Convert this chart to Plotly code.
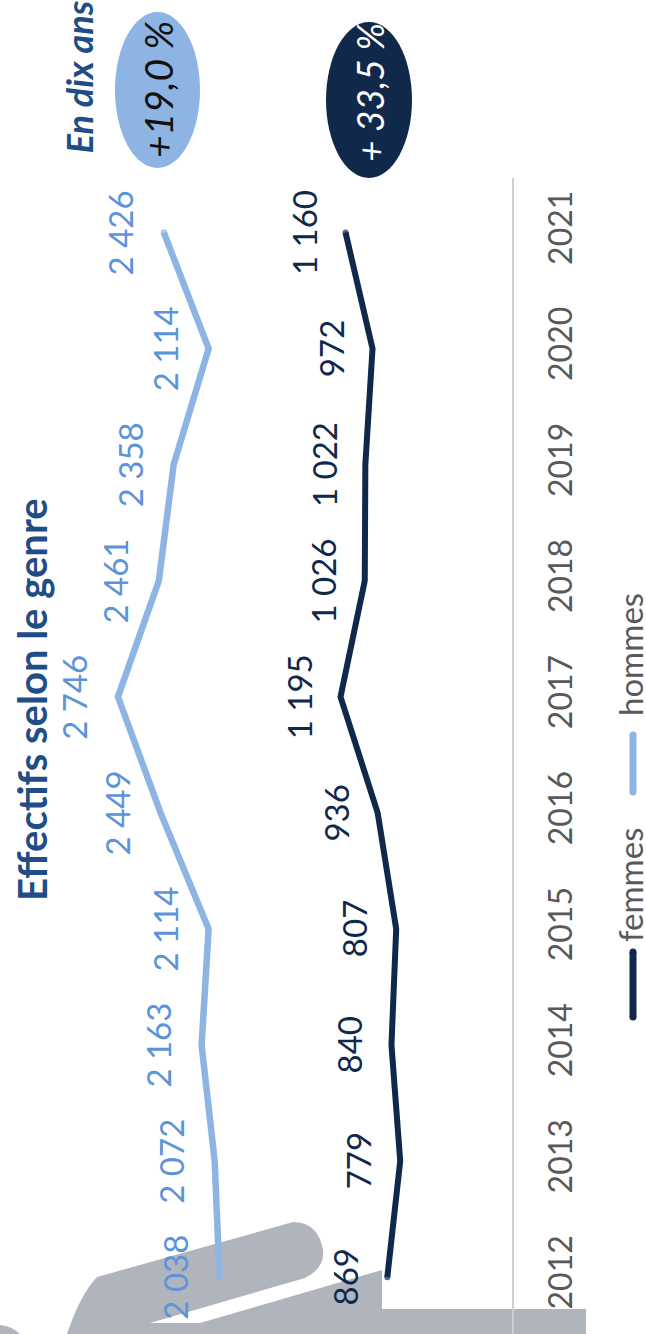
import plotly.graph_objects as go

years = [2012, 2013, 2014, 2015, 2016, 2017, 2018, 2019, 2020, 2021]
hommes = [2038, 2072, 2163, 2114, 2449, 2746, 2461, 2358, 2114, 2426]
femmes = [869, 779, 840, 807, 936, 1195, 1026, 1022, 972, 1160]

FONT = "Lato"
LIGHT = "#8db4e2"
LIGHT_TXT = "#5b94d8"
DARK = "#10284a"
GREY = "#b0b5bd"
W, H = 646, 1334
L, R, T, B = 0, 134, 178, 0
PW, PH = W - L - R, H - T - B


def px(x):
    return (x - L) / PW


def py(y):
    return (H - B - y) / PH


def fmt(v):
    return f"{v:,}".replace(",", " ")


def path(points):
    out = []
    for cmd, *coords in points:
        vals = []
        for i in range(0, len(coords), 2):
            vals.append(f"{px(coords[i]):.5f},{py(coords[i + 1]):.5f}")
        out.append(cmd + " " + " ".join(vals))
    return " ".join(out) + " Z"


def text(s, x, y, size, color, bold=False, italic=False, yanchor="middle"):
    t = f"<b>{s}</b>" if bold else s
    t = f"<i>{t}</i>" if italic else t
    return dict(text=t, x=px(x), y=py(y), xref="paper", yref="paper", textangle=-90,
                showarrow=False, xanchor="center", yanchor=yanchor,
                font=dict(family=FONT, size=size, color=color))


def key(x, y0, y1, color, w=7):
    r = w / 2
    return [
        dict(type="line", xref="paper", yref="paper", x0=px(x), x1=px(x), y0=py(y0), y1=py(y1),
             line=dict(color=color, width=w)),
        dict(type="circle", xref="paper", yref="paper", fillcolor=color, line=dict(width=0),
             x0=px(x - r), x1=px(x + r), y0=py(y0 + r), y1=py(y0 - r)),
        dict(type="circle", xref="paper", yref="paper", fillcolor=color, line=dict(width=0),
             x0=px(x - r), x1=px(x + r), y0=py(y1 + r), y1=py(y1 - r)),
    ]


fig = go.Figure()
for name, vals, col, w in [("hommes", hommes, LIGHT, 6.5), ("femmes", femmes, DARK, 6)]:
    ends = [w] + [0] * (len(vals) - 2) + [w]
    fig.add_trace(go.Scatter(x=vals, y=years, mode="lines+markers", name=name,
                             line=dict(color=col, width=w),
                             marker=dict(color=col, size=ends, line=dict(width=0))))

annotations = []
for v, yr in zip(hommes, years):
    annotations.append(dict(x=v, y=yr, text=fmt(v), xshift=-44, textangle=-90, showarrow=False,
                            font=dict(family=FONT, size=33, color=LIGHT_TXT)))
for v, yr in zip(femmes, years):
    annotations.append(dict(x=v, y=yr, text=fmt(v), xshift=-42, textangle=-90, showarrow=False,
                            font=dict(family=FONT, size=33, color=DARK)))

annotations += [
    text("Effectifs selon le genre", 32, 700, 40, "#1f4e86", bold=True),
    text("En dix ans", 78, 156, 36, "#1f4e86", bold=True, italic=True, yanchor="bottom"),
    text("+19,0 %", 158, 90, 39, "#111111", italic=True),
    text("+ 33,5 %", 369, 93, 37, "#ffffff", italic=True),
    text("femmes", 630, 885, 33, "#595959"),
    text("hommes", 630, 655, 33, "#595959"),
]

shapes = [
    dict(type="path", xref="paper", yref="paper", layer="below", fillcolor=GREY, line=dict(width=0),
         path=path([("M", 382, 1270), ("L", 200, 1323), ("L", 150, 1323), ("L", 305, 1278),
                    ("Q", 325, 1268, 323, 1250), ("Q", 318, 1222, 293, 1222), ("L", 97, 1277),
                    ("Q", 80, 1295, 67, 1334), ("L", 586, 1334), ("L", 586, 1309), ("L", 382, 1309)])),
    dict(type="path", xref="paper", yref="paper", layer="below", fillcolor=GREY, line=dict(width=0),
         path=path([("M", 0, 1325), ("Q", 12, 1326, 20, 1334), ("L", 0, 1334)])),
    dict(type="circle", xref="paper", yref="paper", layer="below", fillcolor=LIGHT, line=dict(width=0),
         x0=px(115), x1=px(200), y0=py(168), y1=py(12)),
    dict(type="circle", xref="paper", yref="paper", layer="below", fillcolor=DARK, line=dict(width=0),
         x0=px(326), x1=px(412), y0=py(178), y1=py(22)),
] + key(633, 952, 1017, DARK) + key(633, 735, 792, LIGHT)

fig.update_layout(
    width=W, height=H, margin=dict(l=L, r=R, t=T, b=B, pad=0, autoexpand=False),
    paper_bgcolor="white", plot_bgcolor="rgba(0,0,0,0)", showlegend=False,
    xaxis=dict(range=[3568, 0], showgrid=False, zeroline=False, showticklabels=False, ticks="",
               showline=False),
    yaxis=dict(range=[2011.51, 2021.47], side="right", showgrid=False, zeroline=False, dtick=1,
               tickmode="array", tickvals=years, ticktext=[str(y) for y in years], tickangle=-90,
               showline=True, linecolor="#cfcfcf", linewidth=2, ticks="outside", ticklen=20,
               tickcolor="rgba(0,0,0,0)", tickfont=dict(family=FONT, size=32, color="#595959")),
    annotations=annotations, shapes=shapes,
)
fig.write_html("out.html", config={"displayModeBar": False},
               post_script="document.body.style.margin='0';document.body.style.overflow='hidden';")
